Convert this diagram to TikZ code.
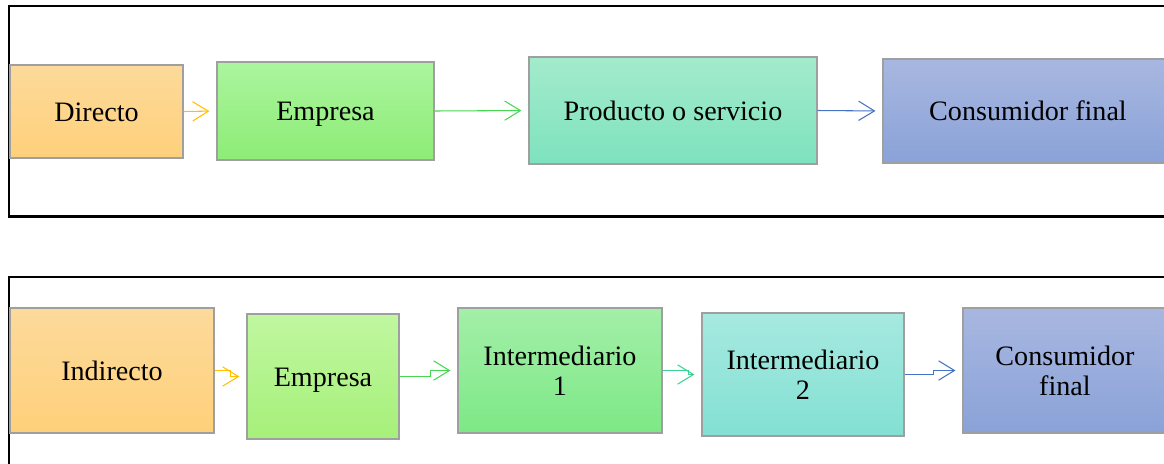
\documentclass[tikz,border=0pt]{standalone}
\usepackage{fontspec}
\setmainfont{Liberation Serif}
\definecolor{orangetop}{RGB}{253, 218, 155}
\definecolor{orangebot}{RGB}{254, 208, 122}
\definecolor{greentop}{RGB}{170, 245, 158}
\definecolor{greenbot}{RGB}{142, 236, 118}
\definecolor{limetop}{RGB}{192, 247, 160}
\definecolor{limebot}{RGB}{166, 240, 122}
\definecolor{minttop}{RGB}{163, 235, 204}
\definecolor{mintbot}{RGB}{126, 226, 190}
\definecolor{leaftop}{RGB}{163, 239, 168}
\definecolor{leafbot}{RGB}{125, 232, 134}
\definecolor{aquatop}{RGB}{166, 233, 224}
\definecolor{aquabot}{RGB}{131, 224, 211}
\definecolor{bluetop}{RGB}{168, 183, 224}
\definecolor{bluebot}{RGB}{138, 162, 216}
\definecolor{arrorange}{RGB}{255, 192, 0}
\definecolor{arrgreen}{RGB}{70, 215, 80}
\definecolor{arrteal}{RGB}{60, 210, 150}
\definecolor{arrblue}{RGB}{68, 114, 196}
\usetikzlibrary{arrows.meta}

\tikzset{
  box/.style={draw=gray!75, line width=0.6pt, align=center, inner sep=2pt,
    font=\fontsize{16}{17}\selectfont},
  oneline/.style={box, text height=11pt, text depth=0pt},
  arr/.style={line width=0.6pt, shorten >=4pt, -{Straight Barb[length=9pt, width=11pt]}},
  frame/.style={line width=1.2pt, black}
}

\begin{document}
\begin{tikzpicture}
  \useasboundingbox (0,0) rectangle (23.28,-9.26);

  % Frames
  \draw[frame] (23.5,-0.12) -- (0.18,-0.12) -- (0.18,-4.33) -- (23.5,-4.33);
  \draw[frame] (23.5,-5.54) -- (0.18,-5.54) -- (0.18,-9.5);

  % Direct channel
  \node[oneline, top color=orangetop, bottom color=orangebot, minimum width=3.46cm, minimum height=1.86cm] (dir) at (1.93,-2.23) {Directo};
  \node[oneline, top color=greentop, bottom color=greenbot, minimum width=4.34cm, minimum height=1.96cm] (emp1) at (6.51,-2.22) {Empresa};
  \node[oneline, top color=minttop, bottom color=mintbot, minimum width=5.76cm, minimum height=2.14cm] (prod) at (13.46,-2.21) {Producto o servicio};
  \node[oneline, top color=bluetop, bottom color=bluebot, minimum width=5.8cm, minimum height=2.08cm] (cons1) at (20.56,-2.22) {Consumidor final};

  \draw[arr, arrorange] (dir.east) -- (emp1.west);
  \draw[arr, arrgreen] (emp1.east) -- (prod.west);
  \draw[arr, arrblue] (prod.east) -- (cons1.west);

  % Indirect channel
  \node[oneline, top color=orangetop, bottom color=orangebot, minimum width=4.08cm, minimum height=2.5cm] (ind) at (2.24,-7.41) {Indirecto};
  \node[oneline, top color=limetop, bottom color=limebot, minimum width=3.04cm, minimum height=2.5cm] (emp2) at (6.46,-7.53) {Empresa};
  \node[box, top color=leaftop, bottom color=leafbot, minimum width=4.08cm, minimum height=2.5cm] (int1) at (11.2,-7.41) {Intermediario\\1};
  \node[box, top color=aquatop, bottom color=aquabot, minimum width=4.04cm, minimum height=2.46cm] (int2) at (16.06,-7.49) {Intermediario\\2};
  \node[box, top color=bluetop, bottom color=bluebot, minimum width=4.08cm, minimum height=2.5cm] (cons2) at (21.3,-7.41) {Consumidor\\final};

  \draw[arr, arrorange] (ind.east) -- ++(0.32,0) |- (emp2.west);
  \draw[arr, arrgreen] (emp2.east) -- ++(0.62,0) |- (int1.west);
  \draw[arr, arrteal] (int1.east) -- ++(0.52,0) |- (int2.west);
  \draw[arr, arrblue] (int2.east) -- ++(0.58,0) |- (cons2.west);
\end{tikzpicture}
\end{document}
